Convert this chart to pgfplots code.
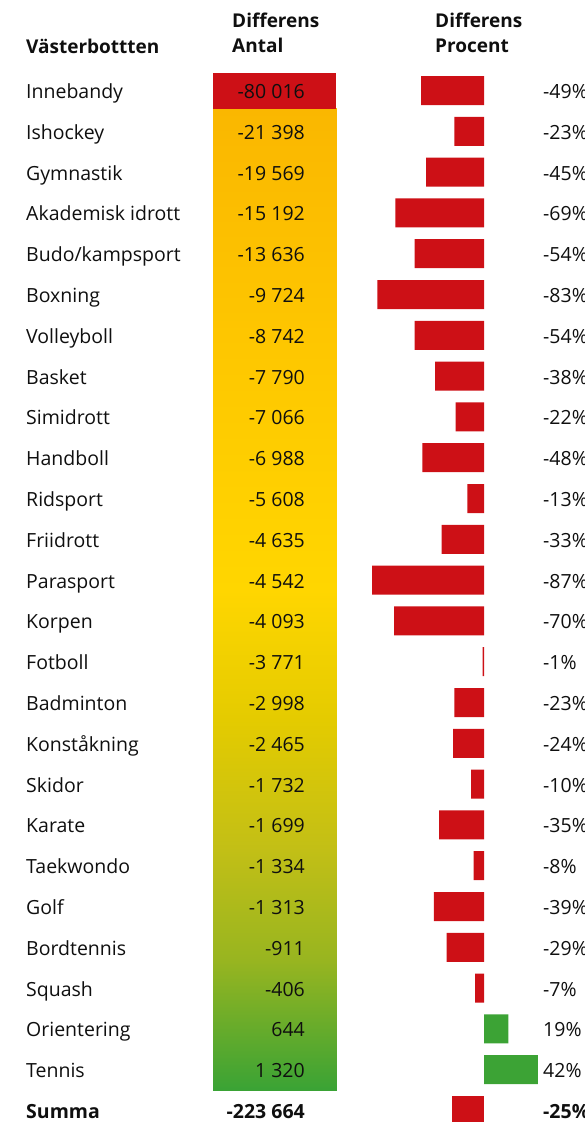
\documentclass[border=0pt]{standalone}
\usepackage{pgfplots}
\pgfplotsset{compat=1.18}
\usepackage{pgfplotstable}
\usepackage{fontspec}
\setmainfont{Open Sans}
\definecolor{barred}{RGB}{205,16,22}
\definecolor{bargreen}{RGB}{60,163,53}
\definecolor{txt}{RGB}{15,15,15}

\pgfplotstableread[col sep=comma]{
i,name,antal,pct
0,Innebandy,-80 016,-49
1,Ishockey,-21 398,-23
2,Gymnastik,-19 569,-45
3,Akademisk idrott,-15 192,-69
4,Budo/kampsport,-13 636,-54
5,Boxning,-9 724,-83
6,Volleyboll,-8 742,-54
7,Basket,-7 790,-38
8,Simidrott,-7 066,-22
9,Handboll,-6 988,-48
10,Ridsport,-5 608,-13
11,Friidrott,-4 635,-33
12,Parasport,-4 542,-87
13,Korpen,-4 093,-70
14,Fotboll,-3 771,-1
15,Badminton,-2 998,-23
16,Konståkning,-2 465,-24
17,Skidor,-1 732,-10
18,Karate,-1 699,-35
19,Taekwondo,-1 334,-8
20,Golf,-1 313,-39
21,Bordtennis,-911,-29
22,Squash,-406,-7
23,Orientering,644,19
24,Tennis,1 320,42
}\sports

\pgfplotstableread{
x y c
213 108 108
336 108 108
213 350 350
336 350 350
213 590 590
336 590 590
213 720 720
336 720 720
213 850 850
336 850 850
213 960 960
336 960 960
213 1090 1090
336 1090 1090
}\grad

\newcommand{\rowfont}{\fontsize{19.5bp}{22bp}\selectfont}
\newcommand{\headfont}{\fontsize{19bp}{21bp}\selectfont\bfseries}

\begin{document}
\begin{tikzpicture}
\begin{axis}[
  width=585bp, height=1122bp, scale only axis,
  xmin=0, xmax=585, ymin=0, ymax=1122, y dir=reverse,
  hide axis, clip=false,
  colormap={heat}{rgb255(108pt)=(250,183,0) rgb255(350pt)=(254,199,0) rgb255(590pt)=(255,214,0) rgb255(720pt)=(228,203,0) rgb255(850pt)=(194,191,22) rgb255(960pt)=(152,181,32) rgb255(1090pt)=(58,163,53)},
]
% heat column
\addplot[surf, shader=interp, mesh/cols=2, point meta=explicit] table[x=x, y=y, meta=c]{\grad};
\addplot[fill=barred, draw=none] coordinates {(213,73) (336,73) (336,108.5) (213,108.5)};
% sport names
\addplot[draw=none, mark=none, point meta=explicit symbolic, nodes near coords,
  every node near coord/.append style={anchor=base west, inner sep=0pt, font=\rowfont, text=txt}]
  table[x expr=26, y expr=98.5+40.8*\thisrow{i}, meta=name]{\sports};
% counts
\addplot[draw=none, mark=none, point meta=explicit symbolic, nodes near coords,
  every node near coord/.append style={anchor=base east, inner sep=0pt, font=\rowfont, text=txt}]
  table[x expr=305, y expr=98.5+40.8*\thisrow{i}, meta=antal]{\sports};
% percent labels
\addplot[draw=none, mark=none, point meta=explicit symbolic, nodes near coords={\pgfplotspointmeta\%},
  every node near coord/.append style={anchor=base west, inner sep=0pt, font=\rowfont, text=txt}]
  table[x expr=543, y expr=98.5+40.8*\thisrow{i}, meta=pct]{\sports};
% headers
\node[anchor=base west, inner sep=0pt, font=\headfont, text=txt] at (axis cs:26,53) {Västerbottten};
\node[anchor=base west, inner sep=0pt, font=\headfont, text=txt] at (axis cs:232,27) {Differens};
\node[anchor=base west, inner sep=0pt, font=\headfont, text=txt] at (axis cs:232,52) {Antal};
\node[anchor=base west, inner sep=0pt, font=\headfont, text=txt] at (axis cs:435,27) {Differens};
\node[anchor=base west, inner sep=0pt, font=\headfont, text=txt] at (axis cs:435,52) {Procent};
% summa row
\node[anchor=base west, inner sep=0pt, font=\rowfont\bfseries, text=txt] at (axis cs:26,1118.5) {Summa};
\node[anchor=base east, inner sep=0pt, font=\rowfont\bfseries, text=txt] at (axis cs:305,1118.5) {-223 664};
\node[anchor=base west, inner sep=0pt, font=\rowfont\bfseries, text=txt] at (axis cs:543,1118.5) {-25\%};
\end{axis}
\begin{axis}[
  width=585bp, height=1122bp, scale only axis,
  xmin=-376.65, xmax=78.6, ymin=0, ymax=1122, y dir=reverse,
  hide axis, clip=false,
]
\addplot[xbar, bar width=29, bar shift=0pt, fill=barred, draw=none,
  x filter/.expression={x<0 ? x : nan}, unbounded coords=discard]
  table[x=pct, y expr=90.5+40.8*\thisrow{i}]{\sports};
\addplot[xbar, bar width=29, bar shift=0pt, fill=bargreen, draw=none,
  x filter/.expression={x>0 ? x : nan}, unbounded coords=discard]
  table[x=pct, y expr=90.5+40.8*\thisrow{i}]{\sports};
\addplot[xbar, bar width=29, bar shift=0pt, fill=barred, draw=none]
  coordinates {(-25,1110.5)};
\end{axis}
\pgfresetboundingbox
\useasboundingbox (0,0) rectangle (585bp,1122bp);
\end{tikzpicture}
\end{document}
